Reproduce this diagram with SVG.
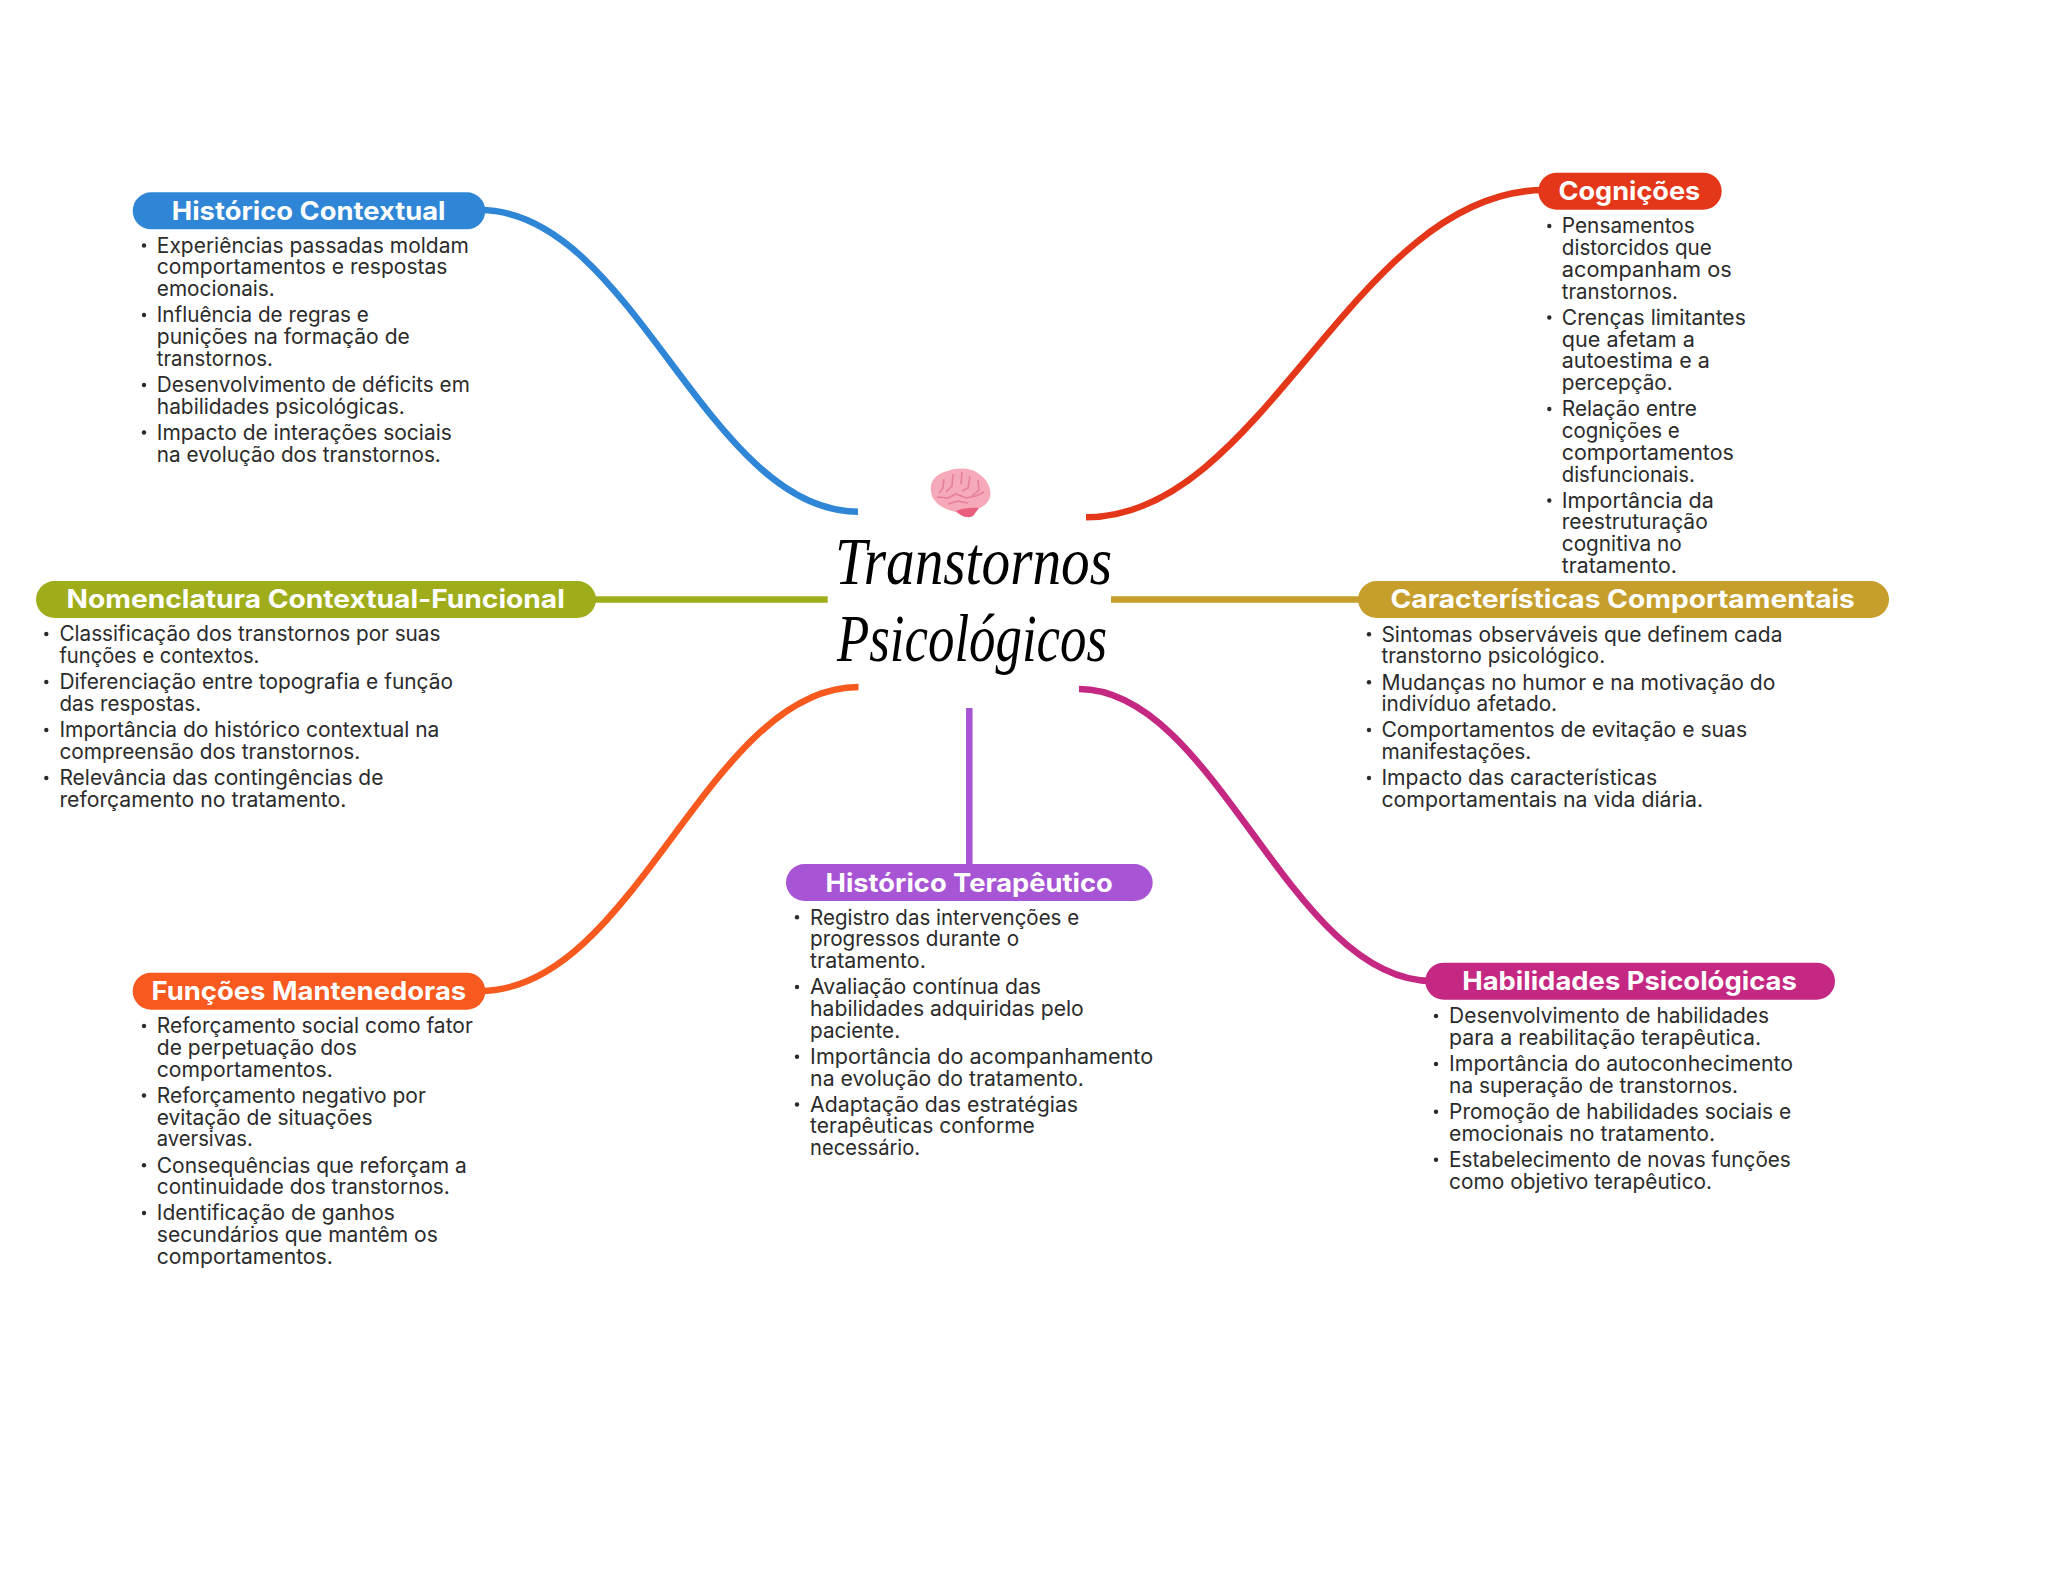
<svg xmlns="http://www.w3.org/2000/svg" width="2048" height="1569" viewBox="0 0 2048 1569">
<style>
text{font-family:"Inter","Noto Sans","Liberation Sans",sans-serif}
.h{font-size:25.5px;font-weight:700;fill:#fff;transform:translate(-.5px,.5px)}
.t{font-size:21px;font-weight:400;fill:#2b2b2b;transform:translate(-.9px,.7px)}
.b{fill:#2b2b2b}
.c{fill:none;stroke-width:6.5}
.title{font-family:"Liberation Serif",serif;font-style:italic;font-size:68px;fill:#000}
</style>
<rect width="2048" height="1569" fill="#fff"/>
<g id="connectors">
<path class="c" stroke="#2F86D6" d="M480 210C633 210 706 511.700 858 511.700"/>
<path class="c" stroke="#E43619" d="M1086 517.300C1265 517.300 1354 190 1545 190"/>
<path class="c" stroke="#A0AD1B" d="M590 599.500H827.700"/>
<path class="c" stroke="#C59E2C" d="M1111 599.500H1365"/>
<path class="c" stroke="#F7591F" d="M480 991C635 991 708 687 858.500 687"/>
<path class="c" stroke="#A855D5" d="M969.300 708V866"/>
<path class="c" stroke="#C42882" d="M1079 689C1216 689 1290 981 1432 981"/>
</g>
<g id="center">
<g id="brain">
<path fill="#F5A9B9" d="M931 491C929 480 938 473 948 471C958 467 972 468 979 474C987 479 992 489 990 497C988 504 982 508 976 509L971 516C966 518 961 516 956 512C948 510 940 507 936 502C933 499 931 495 931 491Z"/>
<path fill="#E9607F" d="M956 511C962 508 972 507 979 508L973 516C967 519 961 516 956 511Z"/>
<path fill="none" stroke="#E77F97" stroke-width="1.600" d="M944 479L943 488L939 493M953 474L952 486L946 492M962 472L961 484M970 476L968 488L962 491M978 480L979 490L972 496M937 497L948 498L956 494L966 498L976 496L984 492M948 504L958 501L968 503"/>
</g>
<text class="title" x="835" y="584" textLength="277" lengthAdjust="spacingAndGlyphs">Transtornos</text>
<text class="title" x="837" y="661" textLength="270" lengthAdjust="spacingAndGlyphs">Psicológicos</text>
</g>
<g id="historico-contextual">
<rect x="132.700" y="192.300" width="352.600" height="37" rx="18.500" fill="#2F86D6"/>
<text class="h" x="172.300" y="219.300" textLength="273.700" lengthAdjust="spacingAndGlyphs">Histórico Contextual</text>
<circle class="b" cx="144" cy="245.500" r="2.200"/><circle class="b" cx="144" cy="315" r="2.200"/><circle class="b" cx="144" cy="385" r="2.200"/><circle class="b" cx="144" cy="432.500" r="2.200"/>
<text class="t" x="157.700" y="252" textLength="312" lengthAdjust="spacingAndGlyphs">Experiências passadas moldam</text>
<text class="t" x="157.700" y="273.700" textLength="290.700" lengthAdjust="spacingAndGlyphs">comportamentos e respostas</text>
<text class="t" x="157.700" y="295.500" textLength="118" lengthAdjust="spacingAndGlyphs">emocionais.</text>
<text class="t" x="157.700" y="321.700" textLength="212" lengthAdjust="spacingAndGlyphs">Influência de regras e</text>
<text class="t" x="157.700" y="343.500" textLength="253" lengthAdjust="spacingAndGlyphs">punições na formação de</text>
<text class="t" x="157.700" y="365" textLength="116" lengthAdjust="spacingAndGlyphs">transtornos.</text>
<text class="t" x="157.700" y="391.700" textLength="313" lengthAdjust="spacingAndGlyphs">Desenvolvimento de déficits em</text>
<text class="t" x="157.700" y="413" textLength="248" lengthAdjust="spacingAndGlyphs">habilidades psicológicas.</text>
<text class="t" x="157.700" y="439" textLength="295" lengthAdjust="spacingAndGlyphs">Impacto de interações sociais</text>
<text class="t" x="157.700" y="461.500" textLength="284" lengthAdjust="spacingAndGlyphs">na evolução dos transtornos.</text>
</g>
<g id="cognicoes">
<rect x="1538.300" y="172.700" width="183.400" height="37" rx="18.500" fill="#E43619"/>
<text class="h" x="1559" y="199.300" textLength="141.700" lengthAdjust="spacingAndGlyphs">Cognições</text>
<circle class="b" cx="1549.300" cy="226" r="2.200"/><circle class="b" cx="1549.300" cy="317.500" r="2.200"/><circle class="b" cx="1549.300" cy="409" r="2.200"/><circle class="b" cx="1549.300" cy="500.500" r="2.200"/>
<text class="t" x="1562.700" y="232.700" textLength="133" lengthAdjust="spacingAndGlyphs">Pensamentos</text>
<text class="t" x="1562.700" y="254.300" textLength="150" lengthAdjust="spacingAndGlyphs">distorcidos que</text>
<text class="t" x="1562.700" y="276.300" textLength="170" lengthAdjust="spacingAndGlyphs">acompanham os</text>
<text class="t" x="1562.700" y="298" textLength="116" lengthAdjust="spacingAndGlyphs">transtornos.</text>
<text class="t" x="1562.700" y="324" textLength="184" lengthAdjust="spacingAndGlyphs">Crenças limitantes</text>
<text class="t" x="1562.700" y="346" textLength="133" lengthAdjust="spacingAndGlyphs">que afetam a</text>
<text class="t" x="1562.700" y="367.700" textLength="148" lengthAdjust="spacingAndGlyphs">autoestima e a</text>
<text class="t" x="1562.700" y="389.300" textLength="111" lengthAdjust="spacingAndGlyphs">percepção.</text>
<text class="t" x="1562.700" y="415.700" textLength="135" lengthAdjust="spacingAndGlyphs">Relação entre</text>
<text class="t" x="1562.700" y="437.300" textLength="118" lengthAdjust="spacingAndGlyphs">cognições e</text>
<text class="t" x="1562.700" y="459.300" textLength="172" lengthAdjust="spacingAndGlyphs">comportamentos</text>
<text class="t" x="1562.700" y="481" textLength="133" lengthAdjust="spacingAndGlyphs">disfuncionais.</text>
<text class="t" x="1562.700" y="507" textLength="152" lengthAdjust="spacingAndGlyphs">Importância da</text>
<text class="t" x="1562.700" y="528.700" textLength="146" lengthAdjust="spacingAndGlyphs">reestruturação</text>
<text class="t" x="1562.700" y="550.700" textLength="120" lengthAdjust="spacingAndGlyphs">cognitiva no</text>
<text class="t" x="1562.700" y="572.300" textLength="115" lengthAdjust="spacingAndGlyphs">tratamento.</text>
</g>
<g id="nomenclatura">
<rect x="36" y="581" width="560" height="37" rx="18.500" fill="#A0AD1B"/>
<text class="h" x="67" y="607.300" textLength="498.300" lengthAdjust="spacingAndGlyphs">Nomenclatura Contextual-Funcional</text>
<circle class="b" cx="46.300" cy="634" r="2.200"/><circle class="b" cx="46.300" cy="682" r="2.200"/><circle class="b" cx="46.300" cy="730" r="2.200"/><circle class="b" cx="46.300" cy="778" r="2.200"/>
<text class="t" x="60.300" y="640.700" textLength="381" lengthAdjust="spacingAndGlyphs">Classificação dos transtornos por suas</text>
<text class="t" x="60.300" y="662.300" textLength="200" lengthAdjust="spacingAndGlyphs">funções e contextos.</text>
<text class="t" x="60.300" y="688.700" textLength="393.600" lengthAdjust="spacingAndGlyphs">Diferenciação entre topografia e função</text>
<text class="t" x="60.300" y="710.300" textLength="141.700" lengthAdjust="spacingAndGlyphs">das respostas.</text>
<text class="t" x="60.300" y="736.700" textLength="380" lengthAdjust="spacingAndGlyphs">Importância do histórico contextual na</text>
<text class="t" x="60.300" y="758.300" textLength="300.800" lengthAdjust="spacingAndGlyphs">compreensão dos transtornos.</text>
<text class="t" x="60.300" y="784.700" textLength="324" lengthAdjust="spacingAndGlyphs">Relevância das contingências de</text>
<text class="t" x="60.300" y="806.300" textLength="287" lengthAdjust="spacingAndGlyphs">reforçamento no tratamento.</text>
</g>
<g id="caracteristicas">
<rect x="1358" y="581" width="531" height="37" rx="18.500" fill="#C59E2C"/>
<text class="h" x="1391" y="607.300" textLength="464.400" lengthAdjust="spacingAndGlyphs">Características Comportamentais</text>
<circle class="b" cx="1369" cy="634.300" r="2.200"/><circle class="b" cx="1369" cy="682.300" r="2.200"/><circle class="b" cx="1369" cy="730" r="2.200"/><circle class="b" cx="1369" cy="778" r="2.200"/>
<text class="t" x="1382.300" y="641" textLength="401" lengthAdjust="spacingAndGlyphs">Sintomas observáveis que definem cada</text>
<text class="t" x="1382.300" y="662.700" textLength="223.700" lengthAdjust="spacingAndGlyphs">transtorno psicológico.</text>
<text class="t" x="1382.300" y="689" textLength="394" lengthAdjust="spacingAndGlyphs">Mudanças no humor e na motivação do</text>
<text class="t" x="1382.300" y="710.700" textLength="175.700" lengthAdjust="spacingAndGlyphs">indivíduo afetado.</text>
<text class="t" x="1382.300" y="736.700" textLength="365.700" lengthAdjust="spacingAndGlyphs">Comportamentos de evitação e suas</text>
<text class="t" x="1382.300" y="758.300" textLength="150" lengthAdjust="spacingAndGlyphs">manifestações.</text>
<text class="t" x="1382.300" y="784.700" textLength="275.700" lengthAdjust="spacingAndGlyphs">Impacto das características</text>
<text class="t" x="1382.300" y="806.300" textLength="321.700" lengthAdjust="spacingAndGlyphs">comportamentais na vida diária.</text>
</g>
<g id="funcoes-mantenedoras">
<rect x="132.700" y="972.700" width="352.600" height="37" rx="18.500" fill="#F7591F"/>
<text class="h" x="152" y="999.300" textLength="314.700" lengthAdjust="spacingAndGlyphs">Funções Mantenedoras</text>
<circle class="b" cx="144" cy="1026" r="2.200"/><circle class="b" cx="144" cy="1095.500" r="2.200"/><circle class="b" cx="144" cy="1165.300" r="2.200"/><circle class="b" cx="144" cy="1213" r="2.200"/>
<text class="t" x="157.700" y="1032.700" textLength="316" lengthAdjust="spacingAndGlyphs">Reforçamento social como fator</text>
<text class="t" x="157.700" y="1054.300" textLength="200" lengthAdjust="spacingAndGlyphs">de perpetuação dos</text>
<text class="t" x="157.700" y="1076.300" textLength="176" lengthAdjust="spacingAndGlyphs">comportamentos.</text>
<text class="t" x="157.700" y="1102.300" textLength="269" lengthAdjust="spacingAndGlyphs">Reforçamento negativo por</text>
<text class="t" x="157.700" y="1124" textLength="215.700" lengthAdjust="spacingAndGlyphs">evitação de situações</text>
<text class="t" x="157.700" y="1145.700" textLength="96" lengthAdjust="spacingAndGlyphs">aversivas.</text>
<text class="t" x="157.700" y="1172" textLength="310" lengthAdjust="spacingAndGlyphs">Consequências que reforçam a</text>
<text class="t" x="157.700" y="1193.700" textLength="293" lengthAdjust="spacingAndGlyphs">continuidade dos transtornos.</text>
<text class="t" x="157.700" y="1219.700" textLength="238" lengthAdjust="spacingAndGlyphs">Identificação de ganhos</text>
<text class="t" x="157.700" y="1241.700" textLength="281" lengthAdjust="spacingAndGlyphs">secundários que mantêm os</text>
<text class="t" x="157.700" y="1263.300" textLength="176" lengthAdjust="spacingAndGlyphs">comportamentos.</text>
</g>
<g id="historico-terapeutico">
<rect x="786" y="864" width="366.700" height="37" rx="18.500" fill="#A855D5"/>
<text class="h" x="826" y="891" textLength="287.300" lengthAdjust="spacingAndGlyphs">Histórico Terapêutico</text>
<circle class="b" cx="797" cy="917.300" r="2.200"/><circle class="b" cx="797" cy="987" r="2.200"/><circle class="b" cx="797" cy="1056.700" r="2.200"/><circle class="b" cx="797" cy="1104.500" r="2.200"/>
<text class="t" x="811" y="924" textLength="269" lengthAdjust="spacingAndGlyphs">Registro das intervenções e</text>
<text class="t" x="811" y="945.700" textLength="209" lengthAdjust="spacingAndGlyphs">progressos durante o</text>
<text class="t" x="811" y="967.700" textLength="115.700" lengthAdjust="spacingAndGlyphs">tratamento.</text>
<text class="t" x="811" y="993.700" textLength="231" lengthAdjust="spacingAndGlyphs">Avaliação contínua das</text>
<text class="t" x="811" y="1015.300" textLength="273.700" lengthAdjust="spacingAndGlyphs">habilidades adquiridas pelo</text>
<text class="t" x="811" y="1037.300" textLength="90" lengthAdjust="spacingAndGlyphs">paciente.</text>
<text class="t" x="811" y="1063.300" textLength="343" lengthAdjust="spacingAndGlyphs">Importância do acompanhamento</text>
<text class="t" x="811" y="1085" textLength="273.700" lengthAdjust="spacingAndGlyphs">na evolução do tratamento.</text>
<text class="t" x="811" y="1111" textLength="268" lengthAdjust="spacingAndGlyphs">Adaptação das estratégias</text>
<text class="t" x="811" y="1132.700" textLength="224.700" lengthAdjust="spacingAndGlyphs">terapêuticas conforme</text>
<text class="t" x="811" y="1154.700" textLength="110" lengthAdjust="spacingAndGlyphs">necessário.</text>
</g>
<g id="habilidades-psicologicas">
<rect x="1425.300" y="962.700" width="409.700" height="37" rx="18.500" fill="#C42882"/>
<text class="h" x="1462.700" y="989.300" textLength="334.600" lengthAdjust="spacingAndGlyphs">Habilidades Psicológicas</text>
<circle class="b" cx="1436" cy="1016" r="2.200"/><circle class="b" cx="1436" cy="1064" r="2.200"/><circle class="b" cx="1436" cy="1111.700" r="2.200"/><circle class="b" cx="1436" cy="1159.700" r="2.200"/>
<text class="t" x="1450" y="1022.700" textLength="320" lengthAdjust="spacingAndGlyphs">Desenvolvimento de habilidades</text>
<text class="t" x="1450" y="1044.300" textLength="312" lengthAdjust="spacingAndGlyphs">para a reabilitação terapêutica.</text>
<text class="t" x="1450" y="1070.700" textLength="344" lengthAdjust="spacingAndGlyphs">Importância do autoconhecimento</text>
<text class="t" x="1450" y="1092.300" textLength="289" lengthAdjust="spacingAndGlyphs">na superação de transtornos.</text>
<text class="t" x="1450" y="1118.300" textLength="342" lengthAdjust="spacingAndGlyphs">Promoção de habilidades sociais e</text>
<text class="t" x="1450" y="1140" textLength="266" lengthAdjust="spacingAndGlyphs">emocionais no tratamento.</text>
<text class="t" x="1450" y="1166.300" textLength="341.700" lengthAdjust="spacingAndGlyphs">Estabelecimento de novas funções</text>
<text class="t" x="1450" y="1188" textLength="263" lengthAdjust="spacingAndGlyphs">como objetivo terapêutico.</text>
</g>
</svg>
